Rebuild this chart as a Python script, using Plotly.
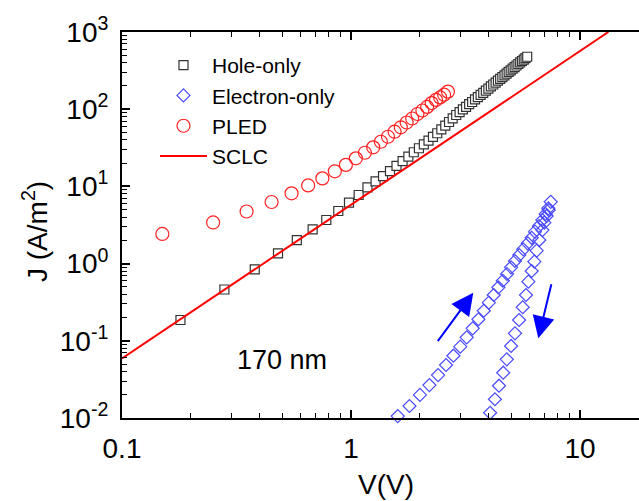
import plotly.graph_objects as go

# ---------------- data ----------------
V_hole = [0.18, 0.28, 0.38, 0.48, 0.58, 0.68, 0.78, 0.88, 0.98, 1.08,
          1.18, 1.28, 1.38, 1.48, 1.58, 1.68, 1.78, 1.88, 1.98, 2.08,
          2.18, 2.28, 2.38, 2.48, 2.58, 2.68, 2.78, 2.88, 2.98, 3.08,
          3.18, 3.28, 3.38, 3.48, 3.58, 3.68, 3.78, 3.88, 3.98, 4.08,
          4.18, 4.28, 4.38, 4.48, 4.58, 4.68, 4.78, 4.88, 4.98, 5.08,
          5.18, 5.28, 5.38, 5.48, 5.58, 5.68, 5.78, 5.88]
J_hole = [0.186, 0.462, 0.843, 1.36, 2.02, 2.78, 3.67, 4.80, 6.15, 7.74,
          9.73, 11.6, 13.6, 15.8, 18.4, 21.3, 24.3, 27.7, 31.2, 35.1,
          39.1, 43.7, 48.8, 54.9, 61.1, 68.3, 76.2, 84.1, 91.6, 99.3,
          107, 116, 124, 134, 143, 153, 163, 174, 185, 197,
          209, 221, 234, 247, 261, 274, 289, 304, 319, 335,
          351, 368, 385, 403, 421, 440, 458, 478]

V_pled = [0.15, 0.25, 0.35, 0.45, 0.55, 0.65, 0.75, 0.85, 0.95, 1.05,
          1.15, 1.25, 1.35, 1.45, 1.55, 1.65, 1.75, 1.85, 1.95, 2.05,
          2.15, 2.25, 2.35, 2.45, 2.55, 2.65]
J_pled = [2.42, 3.41, 4.73, 6.28, 8.14, 10.3, 12.7, 15.7, 19.0, 23.1,
          27.3, 32.1, 37.9, 44.0, 51.1, 58.3, 67.3, 75.8, 86.7, 96.2,
          107, 120, 132, 142, 154, 169]

V_elec_up = [1.6, 1.8, 2.0, 2.2, 2.4, 2.6, 2.8, 3.0, 3.2, 3.4,
             3.6, 3.8, 4.0, 4.2, 4.4, 4.6, 4.8, 5.0, 5.2, 5.43,
             5.65, 5.91, 6.15, 6.36, 6.62, 6.85, 7.08, 7.27, 7.45]
J_elec_up = [0.0106, 0.0143, 0.0199, 0.0267, 0.0360, 0.0486, 0.0641, 0.0839, 0.111, 0.145,
             0.190, 0.245, 0.312, 0.392, 0.493, 0.600, 0.733, 0.895, 1.08, 1.29,
             1.53, 1.83, 2.16, 2.59, 3.07, 3.67, 4.39, 5.20, 6.31]
V_elec_down = [7.30, 7.15, 6.99, 6.85, 6.64, 6.47, 6.32, 6.15, 5.95, 5.81,
               5.62, 5.42, 5.20, 5.00, 4.79, 4.62, 4.43, 4.25, 4.05]
J_elec_down = [4.95, 4.14, 3.39, 2.72, 2.02, 1.47, 1.06, 0.802, 0.583, 0.392,
               0.272, 0.186, 0.125, 0.0857, 0.0575, 0.0386, 0.0262, 0.0175, 0.0117]

V_sclc = [0.1, 13.3]
J_sclc = [0.059, 1000]

x_tickvals = [0.1, 1, 10]
x_ticktext = ["0.1", "1", "10"]
y_tickvals = [1e-2, 1e-1, 1e0, 1e1, 1e2, 1e3]
y_ticktext = ["10<sup>-2</sup>", "10<sup>-1</sup>", "10<sup>0</sup>",
              "10<sup>1</sup>", "10<sup>2</sup>", "10<sup>3</sup>"]
series_names = ["Hole-only", "Electron-only", "PLED", "SCLC"]
label_thickness = "170 nm"
x_title = "V(V)"
y_title = "J (A/m<sup>2</sup>)"

# ---------------- figure ----------------
FONT = "Liberation Sans, Arial, sans-serif"
fig = go.Figure()

fig.add_trace(go.Scatter(
    x=V_hole, y=J_hole, mode="markers", name=series_names[0],
    marker=dict(symbol="square", size=9, color="white",
                line=dict(color="#333333", width=1.2))))
fig.add_trace(go.Scatter(
    x=V_elec_up + V_elec_down, y=J_elec_up + J_elec_down, mode="markers",
    name=series_names[1], cliponaxis=False,
    marker=dict(symbol="diamond-open", size=10, color="#4a4aff",
                line=dict(color="#4a4aff", width=1.2))))
fig.add_trace(go.Scatter(
    x=V_pled, y=J_pled, mode="markers", name=series_names[2],
    marker=dict(symbol="circle-open", size=13, color="#ff2020",
                line=dict(color="#ff2020", width=1.2))))
fig.add_trace(go.Scatter(
    x=V_sclc, y=J_sclc, mode="lines", name=series_names[3],
    line=dict(color="#ff0000", width=2)))

minor_x = [m * 10 ** k for k in (-1, 0, 1) for m in range(2, 10)]
minor_y = [m * 10 ** k for k in range(-2, 3) for m in range(2, 10)]

fig.update_xaxes(
    type="log", range=[-1, 1.2576], showgrid=False, zeroline=False,
    automargin=False,
    showline=True, linecolor="black", linewidth=2, mirror="allticks",
    ticks="inside", ticklen=8, tickwidth=1.5, tickcolor="black",
    tickmode="array", tickvals=x_tickvals, ticktext=x_ticktext,
    tickfont=dict(family=FONT, size=28, color="black"),
    ticklabelstandoff=4,
    minor=dict(tickmode="array", tickvals=minor_x, ticks="inside",
               ticklen=5, tickwidth=1.2, tickcolor="black", showgrid=False))
fig.update_yaxes(
    type="log", range=[-2, 3], showgrid=False, zeroline=False,
    automargin=False,
    showline=True, linecolor="black", linewidth=2, mirror=False,
    ticks="inside", ticklen=8, tickwidth=1.5, tickcolor="black",
    tickmode="array", tickvals=y_tickvals, ticktext=y_ticktext,
    tickfont=dict(family=FONT, size=28, color="black"),
    ticklabelstandoff=6,
    minor=dict(tickmode="array", tickvals=minor_y, ticks="inside",
               ticklen=5, tickwidth=1.2, tickcolor="black", showgrid=False))

L, T, W, H = 122, 32, 517, 386
def px(xp):
    return (xp - L) / W
def py(yp):
    return (T + H - yp) / H

annotations = [
    dict(text=label_thickness, x=px(282), y=py(360), xref="paper", yref="paper",
         showarrow=False, font=dict(family=FONT, size=27, color="black"),
         xanchor="center", yanchor="middle"),
    dict(text=x_title, x=px(386), y=py(484), xref="paper", yref="paper",
         showarrow=False, font=dict(family=FONT, size=28, color="black"),
         xanchor="center", yanchor="middle"),
    dict(text=y_title, x=px(35), y=py(232), xref="paper", yref="paper",
         showarrow=False, textangle=-90,
         font=dict(family=FONT, size=28, color="black"),
         xanchor="center", yanchor="middle"),
    # hysteresis arrows
    dict(text="", x=px(473.3), y=py(292.7), xref="paper", yref="paper",
         ax=-36.6, ay=50, showarrow=True, arrowhead=2, arrowsize=2.2,
         arrowwidth=2, arrowcolor="#0000ff"),
    dict(text="", x=px(538.3), y=py(338.3), xref="paper", yref="paper",
         ax=13.4, ay=-55.6, showarrow=True, arrowhead=2, arrowsize=2.2,
         arrowwidth=2, arrowcolor="#0000ff"),
]

fig.update_layout(
    width=639, height=501,
    margin=dict(l=L, r=0, t=T, b=501 - T - H, pad=0, autoexpand=False),
    paper_bgcolor="white", plot_bgcolor="white",
    font=dict(family=FONT, color="black"),
    showlegend=True,
    legend=dict(x=px(155), y=py(45), xanchor="left", yanchor="top",
                bgcolor="rgba(0,0,0,0)", borderwidth=0,
                font=dict(family=FONT, size=21, color="black"),
                itemwidth=47, tracegroupgap=0),
    annotations=annotations,
)

fig.write_html(
    "out.html",
    config={"displayModeBar": False},
    post_script="document.body.style.margin='0';"
                "document.body.style.padding='0';"
                "document.body.style.overflow='hidden';",
)
